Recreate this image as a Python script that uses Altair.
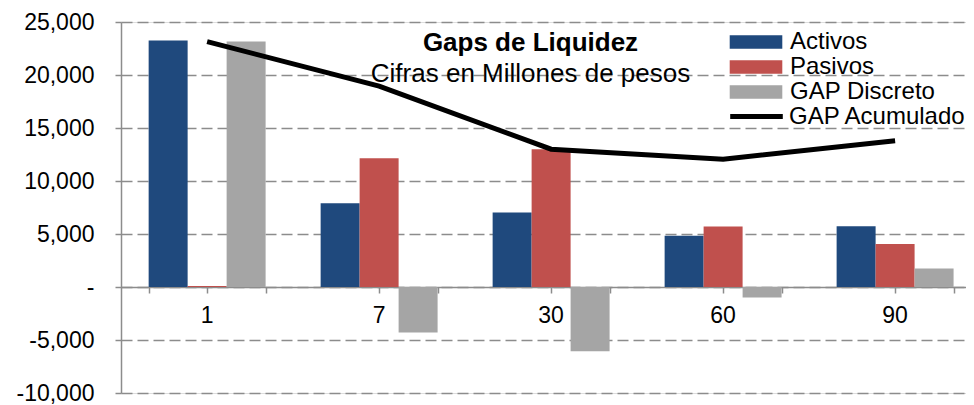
import altair as alt
import pandas as pd

categorias = ["1", "7", "30", "60", "90"]
activos = [23250, 7900, 7020, 4830, 5740]
pasivos = [100, 12150, 12990, 5710, 4050]
gap_discreto = [23150, -4300, -6050, -1000, 1750]
gap_acumulado = [23150, 18950, 13000, 12050, 13800]
series = ["Activos", "Pasivos", "GAP Discreto"]
colores = ["#1F497D", "#C0504D", "#A5A5A5"]
y_ticks = [-10000, -5000, 0, 5000, 10000, 15000, 20000, 25000]

rows = []
for i, c in enumerate(categorias):
    for s, vals in zip(series, [activos, pasivos, gap_discreto]):
        rows.append({"cat": c, "serie": s, "valor": vals[i]})
bars_df = pd.DataFrame(rows)
line_df = pd.DataFrame({"cat": categorias, "acum": gap_acumulado,
                        "serie": ["GAP Acumulado"] * len(categorias)})

FONT = "Liberation Sans"
GREY = "#8c8c8c"
W, H = 845, 371
ZERO_OFF = -(H * 10000 / 35000)


def x_scale():
    return alt.Scale(domain=categorias, paddingInner=0.32, paddingOuter=0.1165, align=0.69)


y_scale = alt.Scale(domain=[-10000, 25000], nice=False, zero=False)

bars = alt.Chart(bars_df).mark_bar().encode(
    x=alt.X("cat:N", scale=x_scale(), sort=categorias,
            axis=alt.Axis(title=None, labelAngle=0, offset=ZERO_OFF, orient="bottom",
                          labelFont=FONT, labelFontSize=23, labelColor="black",
                          labelPadding=11, tickSize=6, tickColor=GREY,
                          tickWidth=1.5, domainColor=GREY, domainWidth=1.5,
                          grid=False)),
    xOffset=alt.XOffset("serie:N", sort=series,
                        scale=alt.Scale(domain=series, paddingInner=0, paddingOuter=0)),
    y=alt.Y("valor:Q", scale=y_scale,
            axis=alt.Axis(title=None, values=y_ticks,
                          labelExpr="datum.value == 0 ? '-\u00a0\u00a0' : replace(format(datum.value, ','), '\u2212', '-')",
                          labelFont=FONT, labelFontSize=23, labelColor="black",
                          labelPadding=21, tickSize=6, tickColor=GREY, tickWidth=1.5,
                          domainColor=GREY, domainWidth=1.5,
                          grid=True, gridColor=GREY, gridWidth=1.5, gridDash=[11, 5])),
    color=alt.Color("serie:N", scale=alt.Scale(domain=series, range=colores),
                    legend=alt.Legend(title=None, orient="none", legendX=623, legendY=8,
                                      symbolType="M-2.63,-0.67H2.63V0.67H-2.63Z",
                                      symbolSize=400, symbolStrokeWidth=0,
                                      labelFont=FONT, labelFontSize=24, labelColor="black",
                                      labelOffset=22, rowPadding=1, padding=0, labelLimit=0)),
)

line = alt.Chart(line_df).mark_line(strokeWidth=5).encode(
    x=alt.X("cat:N", scale=x_scale(), sort=categorias,
            axis=alt.Axis(title=None, labels=False, domain=False, grid=False, orient="bottom",
                          tickBand="extent", offset=ZERO_OFF, tickSize=6,
                          tickColor=GREY, tickWidth=1.5)),
    y=alt.Y("acum:Q", scale=y_scale),
    stroke=alt.Stroke("serie:N", scale=alt.Scale(domain=["GAP Acumulado"], range=["black"]),
                      legend=alt.Legend(title=None, orient="none", legendX=623, legendY=82,
                                        symbolType="M-2.63,0H2.63",
                                        symbolSize=400, symbolStrokeWidth=5,
                                        labelFont=FONT, labelFontSize=24, labelColor="black",
                                        labelOffset=20, padding=0, labelLimit=0)),
)

chart = alt.layer(bars, line).resolve_scale(x="independent").resolve_axis(x="independent").properties(
    width=W, height=H,
    padding={"left": 113, "top": 14, "right": 0, "bottom": 12},
    autosize=alt.AutoSizeParams(type="none"),
    title=alt.TitleParams(text="Gaps de Liquidez", subtitle="Cifras en Millones de pesos",
                          font=FONT, fontSize=26, fontWeight="bold", color="black",
                          subtitleFont=FONT, subtitleFontSize=26, subtitleColor="black",
                          subtitlePadding=5, anchor="middle", frame="group",
                          dx=-13, dy=76, offset=0),
).configure_view(strokeWidth=0).configure(background="white")

chart.save("out.html", embed_options={"renderer": "svg", "actions": False})
